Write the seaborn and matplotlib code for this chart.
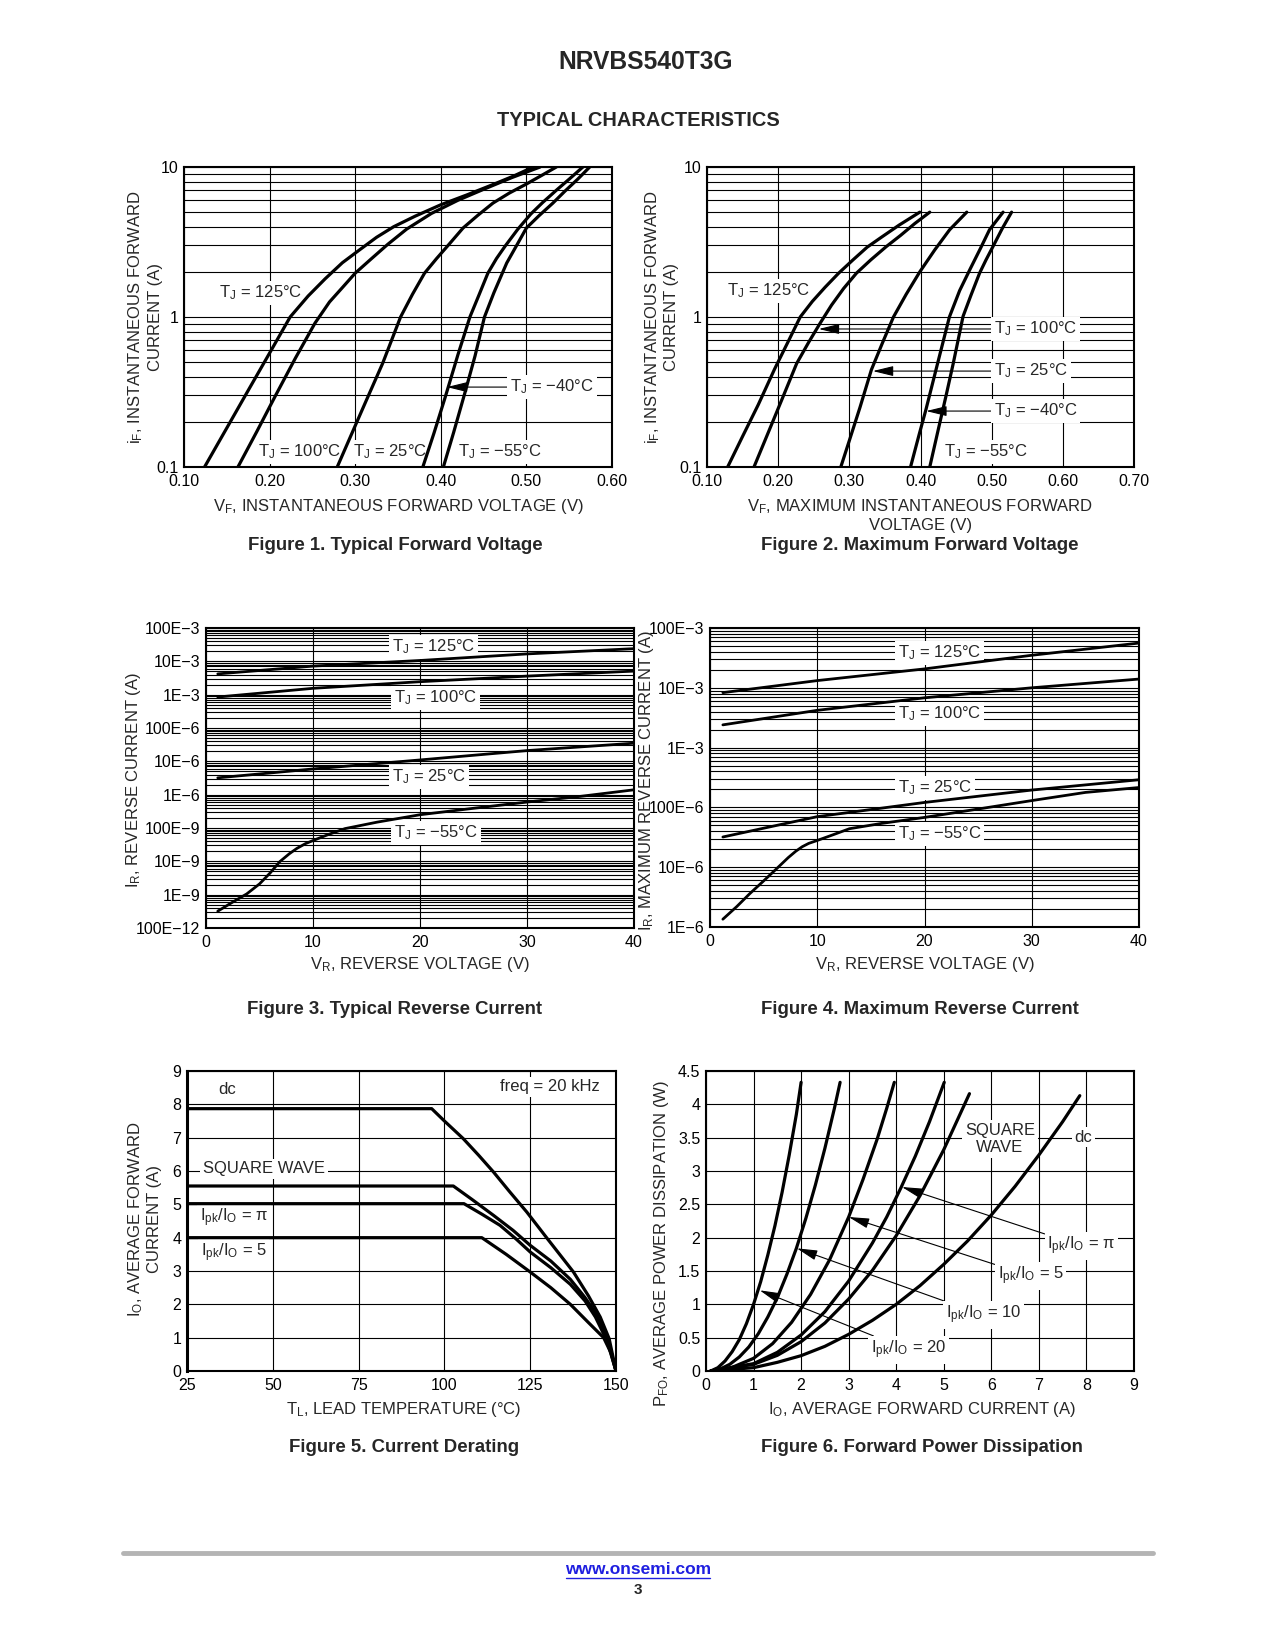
import matplotlib
matplotlib.use('Agg')
import matplotlib.pyplot as plt
import seaborn as sns
import numpy as np
import pandas as pd
from matplotlib.ticker import LogLocator, NullFormatter

W, H = 1275, 1650

# ---------- Figure 1: typical forward voltage ----------
F1_NAMES = ['125', '100', '25', '-40', '-55']
F1_V = [
    [0.124, 0.150, 0.175, 0.200, 0.224, 0.245, 0.265, 0.285, 0.305, 0.325, 0.345,
     0.370, 0.400, 0.430, 0.460, 0.485, 0.508],
    [0.163, 0.185, 0.207, 0.230, 0.253, 0.270, 0.285, 0.300, 0.318, 0.338, 0.360,
     0.389, 0.420, 0.450, 0.483, 0.516],
    [0.279, 0.295, 0.312, 0.332, 0.353, 0.367, 0.381, 0.395, 0.410, 0.426, 0.443,
     0.461, 0.480, 0.500, 0.518, 0.535],
    [0.379, 0.392, 0.405, 0.420, 0.434, 0.445, 0.455, 0.465, 0.475, 0.490, 0.505,
     0.519, 0.535, 0.550, 0.566],
    [0.403, 0.415, 0.428, 0.440, 0.451, 0.462, 0.477, 0.490, 0.500, 0.515, 0.531,
     0.545, 0.560, 0.574],
]
F1_I = [
    [0.1, 0.182, 0.324, 0.575, 1.0, 1.38, 1.8, 2.3, 2.8, 3.4, 4.0, 4.7, 5.6, 6.5, 7.6, 8.7, 10],
    [0.1, 0.172, 0.30, 0.53, 0.91, 1.26, 1.57, 1.96, 2.42, 3.05, 3.85, 4.9, 6.0, 7.1, 8.5, 10],
    [0.1, 0.162, 0.27, 0.49, 1.0, 1.42, 1.96, 2.45, 3.07, 3.92, 4.75, 5.75, 6.7, 7.7, 8.8, 10],
    [0.1, 0.168, 0.29, 0.56, 1.0, 1.42, 1.96, 2.45, 2.96, 3.85, 4.85, 5.8, 7.0, 8.3, 10],
    [0.1, 0.17, 0.31, 0.55, 1.0, 1.45, 2.29, 3.1, 3.92, 4.75, 5.75, 6.9, 8.3, 10],
]
F1_XTICKS = [0.10, 0.20, 0.30, 0.40, 0.50, 0.60]
F1_XLABELS = ['0.10', '0.20', '0.30', '0.40', '0.50', '0.60']

# ---------- Figure 2: maximum forward voltage ----------
F2_NAMES = ['125', '100', '25', '-40', '-55']
F2_V = [
    [0.129, 0.150, 0.172, 0.195, 0.215, 0.231, 0.248, 0.266, 0.285, 0.305, 0.325,
     0.345, 0.370, 0.399],
    [0.166, 0.185, 0.205, 0.226, 0.243, 0.259, 0.275, 0.292, 0.310, 0.330, 0.352,
     0.372, 0.392, 0.413],
    [0.288, 0.300, 0.315, 0.331, 0.347, 0.362, 0.380, 0.399, 0.420, 0.441, 0.465],
    [0.386, 0.398, 0.4075, 0.424, 0.4406, 0.455, 0.470, 0.484, 0.497, 0.516],
    [0.413, 0.425, 0.436, 0.446, 0.4598, 0.471, 0.483, 0.492, 0.502, 0.515, 0.528],
]
F2_I = [
    [0.1, 0.16, 0.26, 0.45, 0.70, 1.0, 1.27, 1.58, 1.96, 2.4, 2.92, 3.4, 4.1, 5.0],
    [0.1, 0.165, 0.28, 0.49, 0.68, 0.91, 1.2, 1.55, 1.96, 2.4, 2.95, 3.5, 4.2, 5.0],
    [0.1, 0.15, 0.25, 0.445, 0.68, 1.0, 1.42, 2.0, 2.8, 3.82, 5.0],
    [0.1, 0.164, 0.24, 0.49, 1.0, 1.5, 2.1, 2.85, 3.82, 5.0],
    [0.1, 0.178, 0.3, 0.49, 1.01, 1.4, 1.96, 2.4, 2.96, 3.9, 5.0],
]
F2_XTICKS = [0.10, 0.20, 0.30, 0.40, 0.50, 0.60, 0.70]
F2_XLABELS = ['0.10', '0.20', '0.30', '0.40', '0.50', '0.60', '0.70']
LOG_YTICKS = [0.1, 1, 10]
LOG_YLABELS = ['0.1', '1', '10']

# ---------- Figure 3: typical reverse current ----------
F3_NAMES = ['125', '100', '25', '-55']
F3_VR = [
    [1.1, 10, 20, 30, 40],
    [1.1, 10, 20, 30, 40],
    [1.1, 10, 20, 30, 40],
    [1.1, 2.5, 3.8, 5.0, 6.0, 6.9, 7.8, 8.5, 9.3, 10, 11.5, 13, 16, 20, 25, 30, 35, 40],
]
F3_IR = [
    [4.2e-3, 7.2e-3, 1.06e-2, 1.67e-2, 2.4e-2],
    [8.5e-4, 1.55e-3, 2.45e-3, 3.6e-3, 5.1e-3],
    [3.2e-6, 5.9e-6, 1.1e-5, 2.1e-5, 3.5e-5],
    [3.2e-10, 6.0e-10, 1.05e-9, 2.1e-9, 4.5e-9, 9.8e-9, 1.7e-8, 2.45e-8, 3.4e-8, 4.2e-8,
     6.5e-8, 9.6e-8, 1.5e-7, 2.5e-7, 3.9e-7, 6.0e-7, 8.9e-7, 1.4e-6],
]
F3_YTICKS = [1e-1, 1e-2, 1e-3, 1e-4, 1e-5, 1e-6, 1e-7, 1e-8, 1e-9, 1e-10]
F3_YLABELS = ['100E\u22123', '10E\u22123', '1E\u22123', '100E\u22126', '10E\u22126',
              '1E\u22126', '100E\u22129', '10E\u22129', '1E\u22129', '100E\u221212']

# ---------- Figure 4: maximum reverse current ----------
F4_NAMES = ['125', '100', '25', '-55']
F4_VR = [
    [1.2, 10, 20, 30, 40],
    [1.2, 10, 20, 30, 40],
    [1.2, 10, 20, 30, 40],
    [1.2, 2.5, 3.7, 5.0, 6.2, 7.3, 8.0, 8.6, 9.2, 10, 11.5, 13, 16, 20, 25, 30, 35, 40],
]
F4_IR = [
    [8.3e-3, 1.32e-2, 2.07e-2, 3.5e-2, 5.6e-2],
    [2.4e-3, 4.2e-3, 6.8e-3, 1.0e-2, 1.4e-2],
    [3.2e-5, 7.0e-5, 1.21e-4, 1.95e-4, 2.9e-4],
    [1.35e-6, 2.2e-6, 3.6e-6, 5.9e-6, 9.4e-6, 1.45e-5, 1.85e-5, 2.2e-5, 2.5e-5, 2.8e-5,
     3.5e-5, 4.4e-5, 5.4e-5, 6.8e-5, 9.4e-5, 1.3e-4, 1.78e-4, 2.15e-4],
]
F4_YTICKS = [1e-1, 1e-2, 1e-3, 1e-4, 1e-5, 1e-6]
F4_YLABELS = ['100E\u22123', '10E\u22123', '1E\u22123', '100E\u22126', '10E\u22126', '1E\u22126']
VR_TICKS = [0, 10, 20, 30, 40]

# ---------- Figure 5: current derating ----------
F5_NAMES = ['dc', 'square', 'pi', '5']
F5_T = [
    [25, 96.3, 100, 105.5, 110, 114.3, 119, 124, 130, 137.6, 142, 145.4, 148, 150],
    [25, 102.6, 108, 114.3, 120, 125, 131, 136.7, 141, 144, 147.6, 150],
    [25, 105.7, 111, 116.2, 121, 125, 131, 136.7, 141, 144, 147.4, 150],
    [25, 110.9, 118, 125, 131, 136.7, 142, 146.4, 148.5, 150],
]
F5_IO = [
    [7.87, 7.87, 7.5, 6.97, 6.47, 5.97, 5.38, 4.77, 3.97, 2.97, 2.25, 1.62, 0.97, 0],
    [5.55, 5.55, 5.15, 4.67, 4.22, 3.77, 3.3, 2.75, 2.2, 1.75, 0.95, 0],
    [5.02, 5.02, 4.7, 4.37, 3.95, 3.57, 3.1, 2.6, 2.1, 1.62, 0.9, 0],
    [4.0, 4.0, 3.5, 2.97, 2.5, 2.0, 1.45, 1.0, 0.55, 0],
]
F5_XTICKS = [25, 50, 75, 100, 125, 150]
F5_YTICKS = [0, 1, 2, 3, 4, 5, 6, 7, 8, 9]

# ---------- Figure 6: forward power dissipation ----------
F6_NAMES = ['20', '10', '5', 'pi', 'square', 'dc']
F6_IO = [
    [0.10, 0.25, 0.40, 0.55, 0.70, 0.85, 1.00, 1.15, 1.30, 1.45, 1.60, 1.75, 1.90, 2.00],
    [0.10, 0.30, 0.50, 0.70, 0.90, 1.10, 1.30, 1.50, 1.70, 1.90, 2.10, 2.30, 2.50, 2.70, 2.82],
    [0.10, 0.50, 1.00, 1.40, 1.80, 2.20, 2.60, 3.00, 3.30, 3.60, 3.80, 3.96],
    [0.10, 1.00, 1.50, 2.00, 2.50, 3.00, 3.50, 3.80, 4.10, 4.40, 4.70, 5.01],
    [0.10, 1.00, 1.50, 2.00, 2.50, 3.00, 3.50, 4.00, 4.50, 5.00, 5.54],
    [0.10, 1.00, 1.50, 2.00, 2.50, 3.00, 3.50, 4.00, 4.50, 5.00, 5.50, 6.00, 6.50, 7.00,
     7.50, 7.86],
]
F6_P = [
    [0.0, 0.05, 0.15, 0.29, 0.47, 0.71, 1.00, 1.34, 1.74, 2.18, 2.68, 3.24, 3.85, 4.33],
    [0.0, 0.03, 0.10, 0.21, 0.36, 0.56, 0.81, 1.10, 1.45, 1.84, 2.29, 2.79, 3.34, 3.94, 4.33],
    [0.0, 0.04, 0.19, 0.41, 0.73, 1.15, 1.67, 2.31, 2.87, 3.48, 3.94, 4.33],
    [0.0, 0.11, 0.28, 0.54, 0.89, 1.35, 1.92, 2.31, 2.75, 3.22, 3.74, 4.33],
    [0.0, 0.10, 0.235, 0.44, 0.72, 1.08, 1.51, 2.03, 2.63, 3.32, 4.16],
    [0.0, 0.05, 0.13, 0.23, 0.37, 0.55, 0.76, 1.00, 1.28, 1.60, 1.95, 2.34, 2.77, 3.24,
     3.74, 4.13],
]
F6_XTICKS = [0, 1, 2, 3, 4, 5, 6, 7, 8, 9]
F6_YTICKS = [0, 0.5, 1, 1.5, 2, 2.5, 3, 3.5, 4, 4.5]
F6_YLABELS = ['0', '0.5', '1', '1.5', '2', '2.5', '3', '3.5', '4', '4.5']


sns.set_theme(style='white')
plt.rcParams['font.family'] = ['Liberation Sans', 'DejaVu Sans']
plt.rcParams['mathtext.fontset'] = 'custom'
plt.rcParams['mathtext.rm'] = 'Liberation Sans'
plt.rcParams['mathtext.it'] = 'Liberation Sans:italic'
plt.rcParams['mathtext.bf'] = 'Liberation Sans:bold'

TICK_FS = 11.5
LABEL_FS = 12
NOTE_FS = 12
CAP_FS = 13.4

ARROW = dict(arrowstyle='-|>,head_length=0.9,head_width=0.22', color='black',
             lw=0.8, mutation_scale=14, shrinkA=0, shrinkB=0)
BOX = dict(facecolor='white', edgecolor='none', pad=2)


def px_axes(fig, left, top, right, bottom):
    return fig.add_axes([left / W, 1 - bottom / H, (right - left) / W, (bottom - top) / H])


def fig_text(fig, x, y, s, **kw):
    fig.text(x / W, 1 - y / H, s, ha='center', va='center', **kw)


def draw_curves(ax, xs, ys, names, lw=2.3):
    frames = [pd.DataFrame({'x': x, 'y': y, 'curve': n}) for n, x, y in zip(names, xs, ys)]
    df = pd.concat(frames, ignore_index=True)
    sns.lineplot(data=df, x='x', y='y', hue='curve', estimator=None, sort=False,
                 palette={n: 'black' for n in names}, legend=False, lw=lw, ax=ax, zorder=3)
    for line in ax.get_lines():
        line.set_solid_joinstyle('round')
    ax.set_xlabel('')
    ax.set_ylabel('')


def style_axes(ax, logy=False):
    ax.set_axisbelow(True)
    for sp in ax.spines.values():
        sp.set_visible(True)
        sp.set_color('black')
        sp.set_linewidth(1.5)
    ax.tick_params(which='both', length=0, labelsize=TICK_FS, colors='black')
    ax.tick_params(axis='y', pad=4)
    ax.tick_params(axis='x', pad=5)
    ax.grid(True, which='major', color='black', lw=0.8)
    if logy:
        ax.yaxis.set_minor_locator(LogLocator(base=10, subs=np.arange(2, 10), numticks=100))
        ax.yaxis.set_minor_formatter(NullFormatter())
        ax.grid(True, which='minor', axis='y', color='black', lw=0.8)


def note(ax, x, y, s, **kw):
    kw.setdefault('ha', 'left')
    ax.text(x, y, s, va='center', fontsize=NOTE_FS, bbox=BOX, zorder=2.5, **kw)


def arrow_note(ax, tip, at, s):
    ax.annotate(s, xy=tip, xytext=at, ha='left', va='center', fontsize=NOTE_FS,
                bbox=BOX, arrowprops=ARROW, zorder=2.5)


def axis_labels(ax, xlab, xpos, ylab, ypos):
    ax.text(xpos[0], xpos[1], xlab, transform=ax.transAxes, ha='center', va='center',
            fontsize=LABEL_FS, multialignment='center')
    ax.text(ypos[0], ypos[1], ylab, transform=ax.transAxes, ha='center', va='center',
            rotation=90, fontsize=LABEL_FS, multialignment='center')


TJ = r'T$_\mathrm{J}$ = '
IPK = r'I$_\mathrm{pk}$/I$_\mathrm{O}$ = '

fig = plt.figure(figsize=(W / 100, H / 100), dpi=100)

# ---- Figure 1
ax1 = px_axes(fig, 184, 167, 612, 467)
ax1.set_yscale('log')
draw_curves(ax1, F1_V, F1_I, F1_NAMES)
ax1.set_xlim(0.10, 0.60)
ax1.set_ylim(0.1, 10)
ax1.set_xticks(F1_XTICKS, F1_XLABELS)
ax1.set_yticks(LOG_YTICKS, LOG_YLABELS)
style_axes(ax1, logy=True)
note(ax1, 0.141, 1.445, TJ + '125°C')
note(ax1, 0.186, 0.126, TJ + '100°C')
note(ax1, 0.297, 0.126, TJ + '25°C')
note(ax1, 0.420, 0.126, TJ + '\u221255°C')
arrow_note(ax1, (0.407, 0.341), (0.481, 0.341), TJ + '\u221240°C')
axis_labels(ax1, r'V$_\mathrm{F}$, INSTANTANEOUS FORWARD VOLTAGE (V)', (0.5, -0.13),
            'i$_\\mathrm{F}$, INSTANTANEOUS FORWARD\nCURRENT (A)', (-0.092, 0.5))

# ---- Figure 2
ax2 = px_axes(fig, 707, 167, 1134, 467)
ax2.set_yscale('log')
draw_curves(ax2, F2_V, F2_I, F2_NAMES)
ax2.set_xlim(0.10, 0.70)
ax2.set_ylim(0.1, 10)
ax2.set_xticks(F2_XTICKS, F2_XLABELS)
ax2.set_yticks(LOG_YTICKS, LOG_YLABELS)
style_axes(ax2, logy=True)
note(ax2, 0.128, 1.49, TJ + '125°C')
arrow_note(ax2, (0.257, 0.832), (0.503, 0.832), TJ + '100°C')
arrow_note(ax2, (0.333, 0.436), (0.503, 0.436), TJ + '25°C')
arrow_note(ax2, (0.408, 0.236), (0.503, 0.236), TJ + '\u221240°C')
note(ax2, 0.433, 0.126, TJ + '\u221255°C')
axis_labels(ax2, 'V$_\\mathrm{F}$, MAXIMUM INSTANTANEOUS FORWARD\nVOLTAGE (V)', (0.5, -0.16),
            'i$_\\mathrm{F}$, INSTANTANEOUS FORWARD\nCURRENT (A)', (-0.108, 0.5))

# ---- Figure 3
ax3 = px_axes(fig, 206, 628, 634, 928)
ax3.set_yscale('log')
draw_curves(ax3, F3_VR, F3_IR, F3_NAMES, lw=2.0)
ax3.set_xlim(0, 40)
ax3.set_ylim(1e-10, 1e-1)
ax3.set_xticks(VR_TICKS, [str(v) for v in VR_TICKS])
ax3.set_yticks(F3_YTICKS, F3_YLABELS)
style_axes(ax3, logy=True)
note(ax3, 17.4, 2.69e-2, TJ + '125°C')
note(ax3, 17.6, 7.9e-4, TJ + '100°C')
note(ax3, 17.4, 3.4e-6, TJ + '25°C')
note(ax3, 17.6, 7.1e-8, TJ + '\u221255°C')
axis_labels(ax3, r'V$_\mathrm{R}$, REVERSE VOLTAGE (V)', (0.5, -0.123),
            r'I$_\mathrm{R}$, REVERSE CURRENT (A)', (-0.17, 0.493))

# ---- Figure 4
ax4 = px_axes(fig, 710, 628, 1139, 927)
ax4.set_yscale('log')
draw_curves(ax4, F4_VR, F4_IR, F4_NAMES, lw=2.0)
ax4.set_xlim(0, 40)
ax4.set_ylim(1e-6, 1e-1)
ax4.set_xticks(VR_TICKS, [str(v) for v in VR_TICKS])
ax4.set_yticks(F4_YTICKS, F4_YLABELS)
style_axes(ax4, logy=True)
note(ax4, 17.5, 3.82e-2, TJ + '125°C')
note(ax4, 17.5, 3.65e-3, TJ + '100°C')
note(ax4, 17.5, 2.11e-4, TJ + '25°C')
note(ax4, 17.5, 3.59e-5, TJ + '\u221255°C')
axis_labels(ax4, r'V$_\mathrm{R}$, REVERSE VOLTAGE (V)', (0.5, -0.127),
            r'I$_\mathrm{R}$, MAXIMUM REVERSE CURRENT (A)', (-0.147, 0.49))

# ---- Figure 5
ax5 = px_axes(fig, 187, 1071, 616, 1371)
draw_curves(ax5, F5_T, F5_IO, F5_NAMES, lw=2.3)
ax5.set_xlim(25, 150)
ax5.set_ylim(0, 9)
ax5.set_xticks(F5_XTICKS, [str(v) for v in F5_XTICKS])
ax5.set_yticks(F5_YTICKS, [str(v) for v in F5_YTICKS])
style_axes(ax5)
ax5.spines['left'].set_linewidth(2.2)
note(ax5, 34.0, 8.43, 'dc')
note(ax5, 116.3, 8.52, 'freq = 20 kHz')
note(ax5, 29.6, 6.06, 'SQUARE WAVE')
note(ax5, 28.7, 4.59, IPK + 'π')
note(ax5, 29.0, 3.54, IPK + '5')
axis_labels(ax5, r'T$_\mathrm{L}$, LEAD TEMPERATURE (°C)', (0.506, -0.127),
            'I$_\\mathrm{O}$, AVERAGE FORWARD\nCURRENT (A)', (-0.1, 0.507))

# ---- Figure 6
ax6 = px_axes(fig, 706, 1071, 1134, 1371)
draw_curves(ax6, F6_IO, F6_P, F6_NAMES, lw=2.3)
ax6.set_xlim(0, 9)
ax6.set_ylim(0, 4.5)
ax6.set_xticks(F6_XTICKS, [str(v) for v in F6_XTICKS])
ax6.set_yticks(F6_YTICKS, F6_YLABELS)
style_axes(ax6)
note(ax6, 6.18, 3.48, 'SQUARE\nWAVE', ha='center', multialignment='center')
note(ax6, 7.75, 3.51, 'dc')
arrow_note(ax6, (4.12, 2.76), (7.18, 1.875), IPK + 'π')
arrow_note(ax6, (3.0, 2.31), (6.13, 1.425), IPK + '5')
arrow_note(ax6, (1.91, 1.84), (5.04, 0.84), IPK + '10')
arrow_note(ax6, (1.13, 1.21), (3.47, 0.315), IPK + '20')
axis_labels(ax6, r'I$_\mathrm{O}$, AVERAGE FORWARD CURRENT (A)', (0.505, -0.127),
            r'P$_\mathrm{FO}$, AVERAGE POWER DISSIPATION (W)', (-0.105, 0.425))

# ---- page text
fig_text(fig, 646, 62, 'NRVBS540T3G', fontsize=17.7, fontweight='bold')
fig_text(fig, 638, 120, 'TYPICAL CHARACTERISTICS', fontsize=14.4, fontweight='bold')
fig_text(fig, 395, 545, 'Figure 1. Typical Forward Voltage', fontsize=CAP_FS, fontweight='bold')
fig_text(fig, 920, 545, 'Figure 2. Maximum Forward Voltage', fontsize=CAP_FS, fontweight='bold')
fig_text(fig, 395, 1010, 'Figure 3. Typical Reverse Current', fontsize=CAP_FS, fontweight='bold')
fig_text(fig, 920, 1010, 'Figure 4. Maximum Reverse Current', fontsize=CAP_FS, fontweight='bold')
fig_text(fig, 404, 1447, 'Figure 5. Current Derating', fontsize=CAP_FS, fontweight='bold')
fig_text(fig, 922, 1447, 'Figure 6. Forward Power Dissipation', fontsize=CAP_FS, fontweight='bold')

fig.add_artist(plt.Line2D([123 / W, 1153 / W], [1 - 1553 / H, 1 - 1553 / H],
                          color='#b4b4b4', lw=3.5, transform=fig.transFigure))
fig_text(fig, 638, 1569, 'www.onsemi.com', fontsize=12.5, fontweight='bold', color='#1f1fe0')
fig_text(fig, 638, 1590, '3', fontsize=11, fontweight='bold')
fig.add_artist(plt.Line2D([566 / W, 710 / W], [1 - 1578 / H, 1 - 1578 / H],
                          color='#1f1fe0', lw=1.0, transform=fig.transFigure))

fig.savefig('out.png', dpi=100, facecolor='white')
plt.close(fig)
